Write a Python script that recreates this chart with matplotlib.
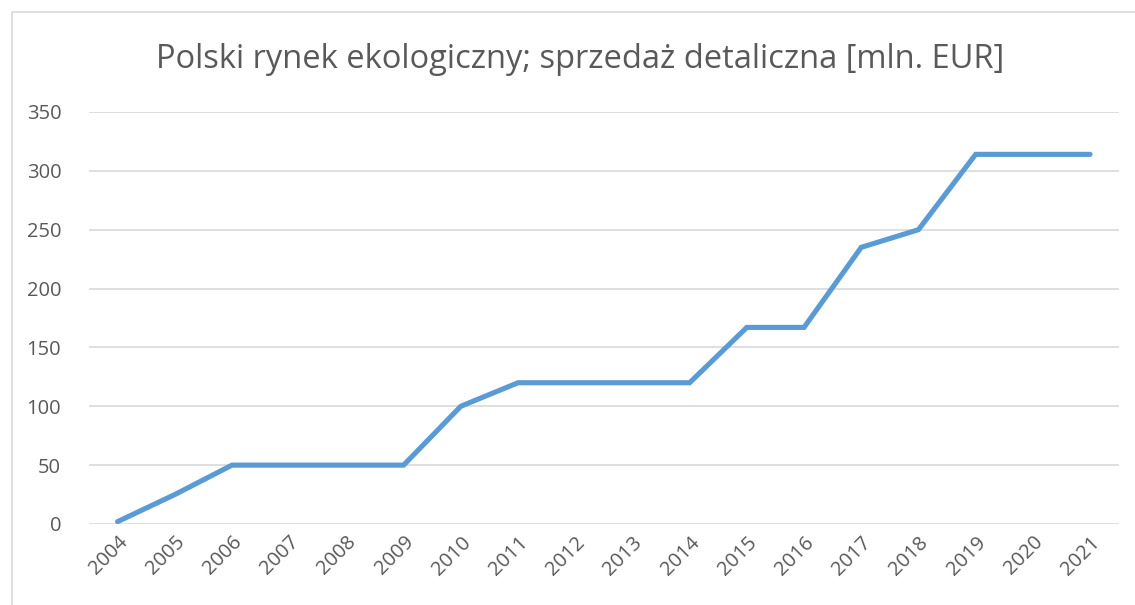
import matplotlib
matplotlib.use("Agg")
import matplotlib.pyplot as plt
from matplotlib.patches import Rectangle

# data
years = ["2004", "2005", "2006", "2007", "2008", "2009", "2010", "2011", "2012",
         "2013", "2014", "2015", "2016", "2017", "2018", "2019", "2020", "2021"]
sales = [2, 25, 50, 50, 50, 50, 100, 120, 120, 120, 120, 167, 167, 235, 250, 314, 314, 314]
y_ticks = [0, 50, 100, 150, 200, 250, 300, 350]

title = "Polski rynek ekologiczny; sprzedaż detaliczna [mln. EUR]"
text_color = "#595959"
line_color = "#5B9BD5"
grid_color = "#D9D9D9"

fig = plt.figure(figsize=(11.35, 6.05), dpi=100)

# chart frame (the Excel chart border)
fig.patches.append(Rectangle((12 / 1135, -0.1), 1.2, (605 - 12) / 605 + 0.1,
                             transform=fig.transFigure, fill=False,
                             edgecolor="#D9D9D9", linewidth=1.2))

ax = fig.add_axes([0.0784, 0.1339, 0.9072, 0.681])
x = list(range(len(years)))
ax.plot(x, sales, color=line_color, linewidth=3.7, solid_capstyle="round",
        solid_joinstyle="miter")

ax.set_xlim(-0.5, len(years) - 0.5)
ax.set_ylim(0, 350)
ax.set_yticks(y_ticks)
ax.set_xticks(x)
ax.set_xticklabels(years, rotation=45, ha="right", rotation_mode="anchor")
ax.grid(axis="y", color=grid_color, linewidth=1.2)
ax.set_axisbelow(True)
for s in ax.spines.values():
    s.set_visible(False)
ax.tick_params(axis="both", length=0, labelsize=14.5, labelcolor=text_color)
ax.tick_params(axis="y", pad=20)
ax.tick_params(axis="x", pad=6)
for lbl in ax.get_xticklabels() + ax.get_yticklabels():
    lbl.set_family("Open Sans")

fig.text(580 / 1135, 1 - 60 / 605, title, ha="center", va="center",
         fontsize=23.5, color=text_color, family="Open Sans")

fig.savefig("out.png", dpi=100)
